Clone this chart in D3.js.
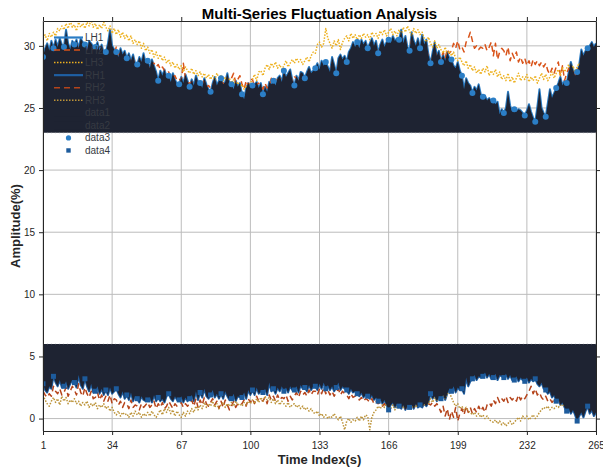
<!DOCTYPE html>
<html>
<head>
<meta charset="utf-8">
<script src="https://cdn.jsdelivr.net/npm/d3@7"></script>
<style>
  body { margin: 0; background: #fff; }
  svg { font-family: "Liberation Sans", Arial, sans-serif; }
</style>
</head>
<body>
<div id="chart"></div>
<script>
// upper group (left hand), one value per time index
const LH1 = [
  29.1,29.8,30.2,29.6,30.4, 29.8,30.5,29.9,30.6,30.1, 29.9,31.3,30.2,29.7,30.4, 30.1,30.5,29.8,30.6,30.3,
  30.1,29.6,30.4,30.2,29.9, 29.9,30.3,29.6,30.1,29.4, 29.5,30.2,31.3,30.0,29.7, 29.5,29.1,29.8,29.3,29.6,
  29.0,29.4,28.8,29.3,28.6, 28.5,29.1,28.7,29.4,28.6, 28.8,28.2,28.9,28.4,27.9, 27.2,28.0,27.6,28.1,27.5,
  27.6,27.1,27.8,27.3,26.9, 26.9,27.5,27.0,27.7,27.2, 26.7,27.3,26.8,27.6,27.1, 27.0,26.6,27.4,26.9,26.5,
  26.3,27.0,27.5,26.8,27.2, 27.4,26.9,27.1,27.8,27.0, 26.9,26.5,27.2,26.7,27.0, 26.1,25.7,26.6,27.0,26.8,
  26.8,26.9,27.1,26.6,27.0, 26.1,26.7,26.3,27.1,26.9, 27.2,26.8,27.4,27.6,27.1, 28.0,27.5,27.8,28.1,27.3,
  26.8,27.6,27.2,27.9,27.8, 27.4,27.9,28.3,27.8,28.0, 28.2,28.6,28.1,28.8,28.4, 28.7,28.3,27.9,29.1,28.5,
  27.8,29.0,29.3,28.9,29.2, 28.7,29.5,29.8,30.3,29.9, 30.3,29.8,30.5,30.1,30.4, 29.8,30.2,30.6,30.0,30.4,
  29.4,30.1,30.5,29.9,30.3, 30.5,30.2,30.8,30.4,30.6, 30.5,31.3,30.2,30.8,29.9, 29.6,31.1,30.4,30.0,30.6,
  29.8,30.9,30.1,30.5,29.3, 28.6,29.5,30.3,29.2,29.6, 28.7,29.3,28.8,29.5,29.0, 28.9,28.4,28.2,28.7,28.0,
  27.6,26.5,27.4,27.0,26.8, 26.2,26.7,26.4,26.9,26.1, 25.9,26.0,25.6,25.8,25.5, 25.6,25.3,25.5,24.5,24.9,
  24.6,25.0,26.3,25.2,24.7, 24.9,24.7,24.9,24.8,24.6, 24.4,24.8,25.3,24.7,24.2, 23.9,25.1,26.5,25.0,24.6,
  24.3,25.4,26.5,25.8,26.2, 26.6,27.0,27.5,26.8,27.2, 27.0,27.9,28.7,28.1,27.6, 27.9,28.5,29.7,29.2,29.6,
  29.8,30.0,30.3,29.9,30.2
];
const LH2 = [
  28.6,29.4,29.9,29.2,30.0, 29.5,30.1,29.6,30.2,29.8, 29.6,30.4,29.9,29.5,30.0, 29.8,30.2,29.6,30.1,29.9,
  29.7,29.3,30.0,29.8,29.5, 29.6,29.9,29.4,29.8,29.3, 29.2,29.8,30.4,29.7,29.4, 29.9,29.3,29.5,29.0,29.3,
  28.8,29.1,28.6,29.0,28.4, 28.3,28.8,28.5,29.0,28.4, 28.5,28.0,28.6,28.6,28.3, 28.5,28.1,28.3,28.0,27.8,
  27.9,27.4,27.5,27.6,27.2, 27.3,27.2,28.6,27.4,27.0, 27.0,27.1,27.2,27.3,26.9, 26.8,26.9,27.2,26.7,26.8,
  26.6,26.8,27.2,26.6,27.0, 27.1,27.0,26.9,27.5,26.8, 27.4,27.8,27.0,27.3,27.6, 26.9,26.5,27.2,26.8,27.3,
  27.3,26.7,26.9,27.0,26.8, 26.5,27.0,26.6,26.8,27.4, 27.0,27.5,27.2,27.3,27.5, 27.7,27.2,27.5,27.8,27.1,
  27.5,27.4,27.0,27.6,27.5, 27.0,27.5,27.9,27.4,27.6, 27.8,28.2,27.7,28.4,28.0, 28.3,27.9,27.5,28.7,28.1,
  27.4,28.6,28.9,28.5,28.8, 28.3,29.1,29.4,29.9,29.5, 29.9,29.4,30.1,29.7,30.0, 29.4,29.8,30.2,29.6,30.0,
  29.0,29.7,30.1,29.5,29.9, 30.1,29.8,30.4,30.0,30.2, 30.1,30.8,29.8,30.4,29.5, 29.2,30.6,30.0,29.6,30.2,
  29.4,30.4,29.7,30.1,28.9, 28.4,29.1,29.9,28.9,29.2, 28.9,29.5,29.0,29.7,29.4, 29.6,30.2,29.8,30.4,29.7,
  29.9,29.5,30.3,30.6,31.1, 30.4,29.8,30.0,29.7,29.9, 29.8,30.1,29.6,29.9,30.3, 29.2,30.2,28.9,29.5,29.8,
  29.6,29.2,29.9,28.8,29.4, 29.0,29.5,28.7,29.1,28.6, 29.0,28.4,28.8,28.3,28.9, 28.5,28.8,28.4,28.7,28.3,
  28.6,28.0,27.7,28.2,27.8, 28.3,28.7,27.6,28.4,27.2, 27.8,28.2,27.5,28.0,27.4, 28.3,27.9,28.6,29.0,28.7,
  29.2,29.6,29.3,29.7,29.5
];
const LH3 = [
  30.6,30.9,30.4,31.0,30.7, 31.1,30.8,31.4,31.2,31.6, 31.3,31.8,31.4,32.0,31.5, 31.7,31.2,31.9,31.5,31.8,
  31.4,31.9,31.6,32.1,31.5, 31.8,31.3,31.7,31.4,31.9, 31.5,31.2,31.6,31.0,31.4, 30.9,31.3,30.7,31.1,30.6,
  30.9,30.4,30.8,30.2,30.5, 30.1,30.4,29.8,30.2,29.6, 29.9,29.4,29.7,29.1,29.5, 29.0,29.3,28.8,29.1,28.6,
  28.9,28.4,28.7,28.2,28.5, 28.1,28.4,27.9,28.3,28.0, 27.8,28.2,27.7,28.0,27.6, 27.9,27.5,27.8,27.4,27.7,
  27.3,27.6,27.2,27.8,27.4, 27.6,27.2,27.5,27.1,27.4, 27.0,27.3,26.8,27.1,26.7, 26.9,26.5,26.8,26.6,27.0,
  27.3,27.7,27.2,27.9,28.0, 27.6,28.2,28.5,28.1,28.6, 28.3,28.7,28.2,28.5,28.1, 28.4,28.8,28.3,28.6,28.9,
  28.6,29.0,28.7,28.9,28.5, 28.8,29.1,28.7,29.2,29.5, 29.4,30.1,30.3,29.9,30.2, 31.4,30.6,30.2,29.8,30.4,
  30.0,30.5,29.7,30.3,30.6, 30.8,30.4,31.0,30.6,30.9, 30.5,30.9,30.6,31.0,30.7, 30.9,30.5,31.1,30.8,31.0,
  30.6,31.2,30.9,31.3,30.8, 31.1,31.4,30.9,31.2,30.8, 31.3,30.9,31.5,31.1,31.6, 31.2,30.8,31.4,31.0,31.3,
  30.9,31.1,30.6,30.3,30.7, 30.2,29.9,30.4,29.8,30.1, 29.7,29.4,29.9,29.3,29.6, 29.2,29.5,29.0,28.8,29.1,
  28.7,28.4,28.8,28.2,28.5, 28.0,28.3,27.8,28.1,27.7, 28.2,27.9,28.4,27.6,28.0, 27.7,28.1,27.5,27.9,27.3,
  27.6,27.2,27.8,27.1,27.5, 27.0,27.4,27.8,27.2,27.5, 27.3,27.7,27.1,27.5,27.2, 27.6,27.0,27.4,27.8,27.3,
  27.7,27.2,27.5,27.9,27.4, 27.8,28.1,27.6,28.3,27.9, 28.2,28.5,28.0,28.4,27.9, 28.3,28.6,28.1,28.5,28.8,
  29.2,29.6,29.9,29.5,29.8
];

// lower group (right hand)
const RH1 = [
  2.8,2.3,2.1,2.6,2.4, 3.4,2.9,2.6,3.1,2.5, 2.6,3.0,2.4,2.8,3.1, 2.9,2.5,3.5,2.7,2.4,
  3.2,2.6,2.2,2.8,2.1, 2.2,2.6,2.0,2.4,1.9, 2.3,1.9,2.5,2.0,2.2, 2.4,2.0,1.7,2.2,1.6,
  1.9,1.5,2.1,1.4,1.8, 1.6,1.3,1.8,1.5,1.4, 1.5,1.7,1.3,1.9,1.4, 1.7,1.4,1.6,1.3,1.8,
  2.0,1.6,1.4,1.8,1.5, 1.5,1.8,1.3,1.7,1.4, 1.6,1.9,1.4,2.2,1.5, 2.1,1.7,2.4,1.8,1.6,
  1.9,2.3,1.7,2.0,1.6, 2.0,1.6,2.2,1.8,1.5, 1.6,2.0,1.4,1.8,1.7, 1.7,2.1,1.6,2.3,1.9,
  2.3,1.9,2.5,2.0,2.2, 2.1,2.4,1.9,2.9,2.2, 2.4,2.0,2.5,2.2,2.6, 2.2,2.5,2.1,2.6,2.3,
  2.3,2.6,2.1,2.7,2.4, 2.5,2.2,2.7,2.3,2.6, 2.6,2.3,2.8,2.4,2.9, 2.4,2.7,2.3,2.6,2.2,
  2.5,2.9,2.3,2.6,2.4, 2.3,2.0,2.4,2.1,2.2, 2.0,1.8,2.1,1.7,1.9, 1.8,1.6,1.9,1.5,1.7,
  1.4,1.6,1.2,1.5,1.1, 0.7,1.1,1.3,0.9,1.2, 1.0,0.8,1.1,0.7,1.0, 0.9,1.1,0.8,1.2,0.9,
  1.1,0.9,1.2,1.0,1.3, 2.0,1.6,1.8,1.4,1.7, 1.6,1.9,1.5,2.0,2.4, 2.2,2.6,2.1,2.5,2.3,
  2.4,2.0,3.3,2.6,3.0, 3.2,3.5,3.1,3.4,3.3, 3.4,3.7,3.3,3.6,3.2, 3.3,3.6,3.1,3.5,3.4,
  3.3,3.6,3.2,3.5,3.1, 3.1,3.4,3.0,3.3,3.1, 3.0,3.3,2.9,3.2,3.0, 3.2,2.8,2.6,2.9,2.4,
  2.3,2.0,2.2,1.7,1.9, 1.4,1.6,1.1,1.3,0.9, 0.6,0.8,0.4,0.7,0.3, -0.2,0.2,0.5,0.1,0.6,
  1.0,0.4,0.7,0.2,0.5
];
const RH2 = [
  2.2,1.9,1.7,2.0,1.8, 2.6,2.2,2.0,2.4,1.9, 2.1,2.5,1.8,2.2,2.6, 2.3,1.9,2.8,2.1,1.8,
  2.5,2.0,1.7,2.2,1.6, 1.7,2.1,1.5,1.9,1.4, 1.8,1.4,1.9,1.2,1.6, 1.5,1.1,1.4,0.9,1.3,
  1.2,0.8,1.5,0.9,1.1, 1.0,0.7,1.2,0.9,1.1, 1.3,0.9,1.1,1.4,0.8, 1.2,0.9,1.3,0.8,1.0,
  1.4,1.1,0.8,1.2,1.0, 1.1,1.3,0.9,1.2,1.0, 1.2,1.5,1.0,1.6,0.9, 1.5,1.1,1.7,1.2,1.0,
  1.3,1.6,1.1,1.4,0.8, 1.4,0.9,1.5,1.1,0.7, 1.0,1.4,0.9,1.2,1.1, 1.2,1.5,1.0,1.6,1.3,
  1.6,1.2,1.8,1.4,1.5, 1.4,1.7,1.2,1.9,1.5, 1.8,1.4,1.9,1.5,1.7, 1.6,1.9,1.4,1.8,1.5,
  1.8,2.1,1.7,2.2,1.9, 2.1,1.8,2.3,1.9,2.2, 2.2,1.9,2.4,2.0,2.5, 2.0,2.3,1.9,2.2,1.8,
  2.1,2.4,1.9,2.2,2.0, 1.9,1.6,2.0,1.7,1.8, 1.6,1.5,1.7,1.4,1.6, 1.5,1.3,1.6,1.2,1.4,
  1.2,1.3,1.0,1.2,0.9, 1.0,1.3,1.4,1.1,1.3, 1.1,0.9,1.2,0.8,1.1, 1.0,1.2,0.9,1.3,1.0,
  1.2,1.0,1.3,1.1,1.2, 1.1,1.3,1.0,1.2,0.9, 0.5,1.0,0.2,0.8,-0.1, 0.6,0.1,0.9,-0.2,0.4,
  0.8,0.3,1.0,0.5,0.9, 0.4,0.8,0.5,1.0,0.6, 0.9,0.5,1.1,1.3,1.0, 1.5,1.2,1.7,1.3,1.6,
  1.4,1.8,1.3,1.7,1.5, 1.7,1.4,1.9,1.5,1.8, 1.6,1.9,2.2,2.6,2.0, 2.4,1.9,2.1,1.7,1.5,
  1.8,1.4,1.6,1.3,1.5, 1.6,1.9,1.3,1.5,1.2, 0.9,1.1,0.7,0.9,0.6, 0.3,0.5,0.8,0.4,0.9,
  1.2,0.7,1.0,0.5,0.8
];
const RH3 = [
  1.9,1.5,1.2,1.0,1.4, 1.7,1.3,1.6,1.1,1.8, 1.4,1.7,1.2,1.5,1.3, 1.6,1.2,1.4,1.0,1.3,
  1.1,1.4,0.9,1.2,1.0, 1.3,0.8,1.1,0.9,1.2, 0.8,1.0,0.6,0.9,0.5, 0.3,0.6,0.2,0.5,0.3,
  0.4,0.1,0.5,0.2,0.6, 0.3,0.5,0.1,0.4,0.2, 0.5,0.2,0.6,0.3,0.1, 0.4,0.7,0.3,0.8,0.5,
  0.9,0.4,0.7,0.2,0.6, 0.3,0.1,0.5,0.2,0.6, 0.4,0.8,0.5,1.0,0.7, 1.1,0.8,1.3,0.9,1.2,
  1.0,1.4,0.9,1.2,0.8, 1.1,1.3,0.9,1.2,1.0, 1.3,1.0,1.4,1.1,1.2, 1.0,1.3,1.1,1.4,1.2,
  1.5,1.2,1.6,1.3,1.7, 1.4,1.8,1.5,1.7,1.3, 1.6,1.2,1.5,1.1,1.4, 1.2,1.0,1.3,0.9,1.1,
  1.2,0.9,1.1,0.8,1.0, 0.7,0.9,0.6,0.8,0.5, 0.4,0.6,0.2,0.4,0.1, 0.3,0.0,0.2,0.1,0.4,
  0.1,-0.1,0.2,-0.3,-0.9, -0.2,0.0,-0.3,-0.1,-0.2, 0.1,-0.2,0.2,-0.1,0.3, 0.2,-0.9,0.1,0.5,0.7,
  1.0,0.8,1.1,0.9,1.2, 1.0,0.8,1.1,0.7,1.0, 0.8,1.1,0.9,1.2,0.9, 1.1,0.8,1.2,0.9,1.3,
  1.0,1.4,1.1,1.5,1.2, 1.6,1.3,1.7,1.4,1.8, 1.5,1.9,1.6,2.0,2.1, 1.7,1.3,1.0,1.2,0.8,
  1.0,0.7,0.9,0.6,0.5, 0.3,0.5,0.2,0.4,0.1, 0.3,0.0,0.2,-0.1,-0.2, -0.3,-0.1,-0.4,-0.2,-0.5,
  -0.3,-0.6,-0.4,-0.2,-0.5, -0.3,-0.1,0.1,-0.2,0.2, 0.0,0.2,-0.1,0.1,0.3, 0.0,0.2,0.5,0.7,0.9,
  0.8,1.0,0.7,0.9,0.8, 1.0,0.9,1.1,1.0,1.2, 1.1,1.3,1.2,1.4,1.1, 1.3,1.2,1.4,1.3,1.5,
  1.4,1.6,1.5,1.7,1.6
];

// patch limits for data1 / data2, marker spacing for data3 / data4
const data1Base = 23;
const data2Base = 6;
const markerStep = 5;

const xTicks = [1, 34, 67, 100, 133, 166, 199, 232, 265];
const yTicks = [0, 5, 10, 15, 20, 25, 30];

const colors = {
  LH1: "#2a7cc4", LH2: "#D95319", LH3: "#EDB120",
  RH1: "#1f5fa3", RH2: "#B5441B", RH3: "#BC9339",
  fill: "#1e2332", data3: "#2b7ec6", data4: "#1d5b9c"
};

var margin = {top: 21, right: 7, bottom: 39, left: 43},
  width = 603 - margin.left - margin.right,
  height = 470 - margin.top - margin.bottom;

var svg = d3.select("#chart").append("svg")
  .attr("width", width + margin.left + margin.right)
  .attr("height", height + margin.top + margin.bottom);
var g = svg.append("g")
  .attr("transform", "translate(" + margin.left + "," + margin.top + ")");

var timeIndex = d3.range(1, LH1.length + 1);

var x = d3.scaleLinear().domain([1, 265]).range([0, width]);
var y = d3.scaleLinear().domain([-1, 32]).range([height, 0]);

g.append("clipPath").attr("id", "plot-clip")
  .append("rect").attr("width", width).attr("height", height);

// grid
g.append("g").selectAll("line").data(xTicks).join("line")
  .attr("x1", d => x(d)).attr("x2", d => x(d))
  .attr("y1", 0).attr("y2", height)
  .attr("stroke", "#bcbcbc").attr("stroke-width", 1);
g.append("g").selectAll("line").data(yTicks).join("line")
  .attr("x1", 0).attr("x2", width)
  .attr("y1", d => y(d)).attr("y2", d => y(d))
  .attr("stroke", "#bcbcbc").attr("stroke-width", 1);

var plot = g.append("g").attr("clip-path", "url(#plot-clip)");

var line = d3.line()
  .x((d, i) => x(timeIndex[i]))
  .y(d => y(d));

function drawLine(values, color, w, dash) {
  plot.append("path")
    .datum(values)
    .attr("d", line)
    .attr("fill", "none")
    .attr("stroke", color)
    .attr("stroke-width", w)
    .attr("stroke-dasharray", dash)
    .attr("stroke-linejoin", "round");
}

drawLine(LH1, colors.LH1, 2, null);
drawLine(LH2, colors.LH2, 1.5, "6,4");
drawLine(LH3, colors.LH3, 1.5, "1.5,1.5");
drawLine(RH1, colors.RH1, 2, null);
drawLine(RH2, colors.RH2, 1.5, "6,4");
drawLine(RH3, colors.RH3, 1.5, "1.5,1.5");

// data1: patch from LH1 down to 23, data2: patch from 6 down to RH1
var area1 = d3.area().x((d, i) => x(timeIndex[i])).y0(y(data1Base)).y1(d => y(d));
var area2 = d3.area().x((d, i) => x(timeIndex[i])).y0(y(data2Base)).y1(d => y(d));
plot.append("path").datum(LH1).attr("d", area1).attr("fill", colors.fill);
plot.append("path").datum(RH1).attr("d", area2).attr("fill", colors.fill);

// dotted patch edges
[data1Base, data2Base].forEach(function(b) {
  plot.append("line")
    .attr("x1", x(1)).attr("x2", x(265))
    .attr("y1", y(b)).attr("y2", y(b))
    .attr("stroke", "#8d929b").attr("stroke-width", 0.8)
    .attr("stroke-opacity", 0.6)
    .attr("stroke-dasharray", "1,3");
});

// data3 / data4 markers
var data3 = timeIndex.filter((d, i) => i % markerStep === 0).map(t => ({t: t, v: LH1[t - 1]}));
var data4 = timeIndex.filter((d, i) => i % markerStep === 0).map(t => ({t: t, v: RH1[t - 1]}));

plot.append("g").selectAll("circle").data(data3).join("circle")
  .attr("cx", d => x(d.t)).attr("cy", d => y(d.v)).attr("r", 3)
  .attr("fill", colors.data3);
plot.append("g").selectAll("rect").data(data4).join("rect")
  .attr("x", d => x(d.t) - 2.5).attr("y", d => y(d.v) - 2.5)
  .attr("width", 5).attr("height", 5)
  .attr("fill", colors.data4);

// axes (box with outward ticks)
function styleAxis(sel) {
  sel.selectAll(".domain").attr("stroke", "#262626").attr("stroke-width", 1);
  sel.selectAll(".tick line").attr("stroke", "#262626");
  sel.selectAll(".tick text").attr("fill", "#262626").style("font-size", "10px")
    .style("font-family", "'Liberation Sans', Arial, sans-serif");
}
g.append("g").attr("transform", "translate(0," + height + ")")
  .call(d3.axisBottom(x).tickValues(xTicks).tickSizeInner(4).tickSizeOuter(0).tickPadding(7))
  .call(styleAxis);
g.append("g")
  .call(d3.axisTop(x).tickValues(xTicks).tickSizeInner(4).tickSizeOuter(0).tickFormat(""))
  .call(styleAxis);
g.append("g")
  .call(d3.axisLeft(y).tickValues(yTicks).tickSizeInner(4).tickSizeOuter(0).tickPadding(4))
  .call(styleAxis);
g.append("g").attr("transform", "translate(" + width + ",0)")
  .call(d3.axisRight(y).tickValues(yTicks).tickSizeInner(4).tickSizeOuter(0).tickFormat(""))
  .call(styleAxis);

// legend
var legendItems = [
  {name: "LH1", kind: "line", color: colors.LH1, w: 2.2, dash: null},
  {name: "LH2", kind: "line", color: colors.LH2, w: 1.5, dash: "6,4"},
  {name: "LH3", kind: "line", color: colors.LH3, w: 1.5, dash: "1.5,1.5"},
  {name: "RH1", kind: "line", color: colors.RH1, w: 2.2, dash: null},
  {name: "RH2", kind: "line", color: colors.RH2, w: 1.5, dash: "6,4"},
  {name: "RH3", kind: "line", color: colors.RH3, w: 1.5, dash: "1.5,1.5"},
  {name: "data1", kind: "patch", color: colors.fill},
  {name: "data2", kind: "patch", color: colors.fill},
  {name: "data3", kind: "circle", color: colors.data3},
  {name: "data4", kind: "square", color: colors.data4}
];
var legend = svg.append("g").attr("transform", "translate(54,37.5)");
legendItems.forEach(function(item, i) {
  var row = legend.append("g").attr("transform", "translate(0," + (i * 12.55) + ")");
  if (item.kind === "line") {
    row.append("line").attr("x1", 0).attr("x2", 29)
      .attr("stroke", item.color).attr("stroke-width", item.w)
      .attr("stroke-dasharray", item.dash);
  } else if (item.kind === "patch") {
    row.append("rect").attr("x", 0).attr("y", -4).attr("width", 29).attr("height", 8)
      .attr("fill", item.color);
  } else if (item.kind === "circle") {
    row.append("circle").attr("cx", 14.5).attr("r", 2.6).attr("fill", item.color);
  } else {
    row.append("rect").attr("x", 12.3).attr("y", -2.2).attr("width", 4.4).attr("height", 4.4)
      .attr("fill", item.color);
  }
  row.append("text").attr("x", 31).attr("dy", "0.35em")
    .style("font-size", "10px").attr("fill", "#363a42")
    .text(item.name);
});

// titles
svg.append("text")
  .attr("x", margin.left + width / 2).attr("y", 19)
  .attr("text-anchor", "middle")
  .style("font-size", "15px").style("font-weight", "bold").attr("fill", "#000")
  .text("Multi-Series Fluctuation Analysis");
svg.append("text")
  .attr("x", margin.left + width / 2).attr("y", 464)
  .attr("text-anchor", "middle")
  .style("font-size", "13px").style("font-weight", "bold").attr("fill", "#262626")
  .text("Time Index(s)");
svg.append("text")
  .attr("transform", "translate(20," + (margin.top + height / 2) + ") rotate(-90)")
  .attr("text-anchor", "middle")
  .style("font-size", "13px").style("font-weight", "bold").attr("fill", "#262626")
  .text("Amplitude(%)");
</script>
</body>
</html>
